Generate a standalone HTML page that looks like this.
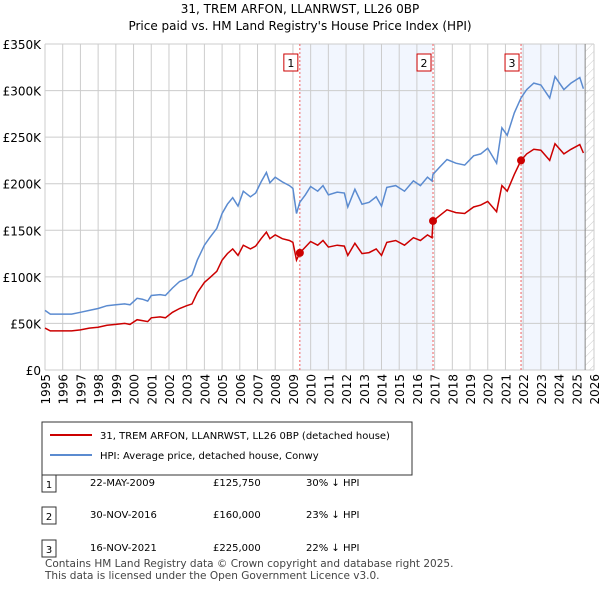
<!DOCTYPE html>
<html><head><meta charset="utf-8"><style>
body{margin:0;background:#fff;font-family:"Liberation Sans",sans-serif;color:#222}
svg text{font-family:"DejaVu Sans","Liberation Sans",sans-serif}
</style></head><body>
<svg width="600" height="590" viewBox="0 0 600 590" xmlns="http://www.w3.org/2000/svg">
<text x="300" y="13" text-anchor="middle" font-size="12">31, TREM ARFON, LLANRWST, LL26 0BP</text>
<text x="300" y="30" text-anchor="middle" font-size="12">Price paid vs. HM Land Registry's House Price Index (HPI)</text>
<defs><pattern id="hatch" width="6" height="6" patternUnits="userSpaceOnUse" patternTransform="rotate(45)"><line x1="0" y1="0" x2="0" y2="6" stroke="#ccc" stroke-width="1"/></pattern></defs>
<g id="plot"></g>
<g>
<rect x="42" y="422" width="370" height="53" fill="#fff" stroke="#333"/>
<line x1="50" y1="435" x2="92" y2="435" stroke="#cc0000" stroke-width="2"/>
<text x="100" y="439" font-size="10">31, TREM ARFON, LLANRWST, LL26 0BP (detached house)</text>
<line x1="50" y1="455" x2="92" y2="455" stroke="#5b8bd0" stroke-width="2"/>
<text x="100" y="459" font-size="10">HPI: Average price, detached house, Conwy</text>
</g>
<g font-size="10">
<rect x="42" y="475" width="14" height="17" fill="#fff" stroke="#333"/><text x="49" y="488" text-anchor="middle">1</text>
<text x="90" y="486">22-MAY-2009</text><text x="213" y="486">£125,750</text><text x="306" y="486">30% ↓ HPI</text>
<rect x="42" y="507" width="14" height="17" fill="#fff" stroke="#333"/><text x="49" y="520" text-anchor="middle">2</text>
<text x="90" y="518">30-NOV-2016</text><text x="213" y="518">£160,000</text><text x="306" y="518">23% ↓ HPI</text>
<rect x="42" y="540" width="14" height="17" fill="#fff" stroke="#333"/><text x="49" y="553" text-anchor="middle">3</text>
<text x="90" y="551">16-NOV-2021</text><text x="213" y="551">£225,000</text><text x="306" y="551">22% ↓ HPI</text>
</g>
<text x="45" y="567" font-size="10.5" fill="#444">Contains HM Land Registry data © Crown copyright and database right 2025.</text>
<text x="45" y="579" font-size="10.5" fill="#444">This data is licensed under the Open Government Licence v3.0.</text>
</svg>
<script>
const dates=[1995.0,1995.3,1996.0,1996.5,1997.0,1997.5,1998.0,1998.5,1999.0,1999.5,1999.8,2000.2,2000.5,2000.8,2001.0,2001.5,2001.8,2002.2,2002.6,2003.0,2003.3,2003.6,2004.0,2004.3,2004.7,2005.0,2005.3,2005.6,2005.9,2006.2,2006.6,2006.9,2007.2,2007.5,2007.7,2008.0,2008.4,2008.8,2009.0,2009.2,2009.39,2009.7,2010.0,2010.4,2010.7,2011.0,2011.5,2011.9,2012.1,2012.5,2012.9,2013.3,2013.7,2014.0,2014.3,2014.8,2015.3,2015.8,2016.2,2016.6,2016.85,2016.91,2017.3,2017.7,2018.2,2018.7,2019.2,2019.6,2020.0,2020.5,2020.8,2021.1,2021.5,2021.88,2022.2,2022.6,2023.0,2023.5,2023.8,2024.3,2024.7,2025.2,2025.4];
const hpiValues=[64,60,60,60,62,64,66,69,70,71,70,77,76,74,80,81,80,88,95,98,102,118,134,142,152,168,178,185,176,192,186,190,202,212,201,207,202,198,195,168,180,188,197,192,198,188,191,190,175,194,178,180,186,176,196,198,192,203,198,207,203,210,218,226,222,220,230,232,238,222,260,252,276,292,301,308,306,292,315,301,308,314,302];
const priceValues=[45,42,42,42,43,45,46,48,49,50,49,54,53,52,56,57,56,62,66,69,71,83,94,99,106,118,125,130,123,134,130,133,141,148,141,145,141,139,137,118,125.75,132,138,134,139,132,134,133,123,136,125,126,130,123,137,139,134,142,139,145,142,160,166,172,169,168,175,177,181,170,198,192,210,225,232,237,236,225,243,232,237,242,233];
const saleDates=[2009.39,2016.91,2021.88];
const salePrices=[125.75,160,225];
const saleLabels=["1","2","3"];
const yTicks=[0,50,100,150,200,250,300,350];
const yTickLabels=["£0","£50K","£100K","£150K","£200K","£250K","£300K","£350K"];
const xYears=[1995,1996,1997,1998,1999,2000,2001,2002,2003,2004,2005,2006,2007,2008,2009,2010,2011,2012,2013,2014,2015,2016,2017,2018,2019,2020,2021,2022,2023,2024,2025,2026];

const L=45,R=594,T=44,B=370;
const xs=d=>L+(d-1995)/(2026-1995)*(R-L);
const ys=v=>B-v/350*(B-T);
const g=document.getElementById('plot');
const NS="http://www.w3.org/2000/svg";
function mk(tag,attrs){const e=document.createElementNS(NS,tag);for(const k in attrs)e.setAttribute(k,attrs[k]);g.appendChild(e);return e;}
let e;
e=mk('rect',{x:xs(saleDates[0]),y:T,width:xs(saleDates[1])-xs(saleDates[0]),height:B-T,fill:'#eef3fd',opacity:0.75});


e=mk('rect',{x:xs(saleDates[2]),y:T,width:xs(2025.5)-xs(saleDates[2]),height:B-T,fill:'#eef3fd',opacity:0.75});


e=mk('rect',{x:xs(2025.5),y:T,width:R-xs(2025.5),height:B-T,fill:'url(#hatch)'});


yTicks.forEach((v,i)=>{
 e=mk('line',{x1:L,x2:R,y1:ys(v),y2:ys(v),stroke:'#ccc','stroke-width':1});
 
 
 e=mk('text',{x:L-4,y:ys(v)+5,'text-anchor':'end','font-size':12});
 e.textContent=yTickLabels[i];
 
 
});
xYears.forEach(yr=>{
 e=mk('line',{x1:xs(yr),x2:xs(yr),y1:T,y2:B,stroke:'#ccc','stroke-width':1});
 
 
 e=mk('text',{x:0,y:0,'text-anchor':'end','font-size':12,transform:`translate(${xs(yr)+5},${B+4}) rotate(-90)`});
 e.textContent=yr;
 
 
});
e=mk('line',{x1:xs(2025.5),x2:xs(2025.5),y1:T,y2:B,stroke:'#888','stroke-width':1});


saleDates.forEach((d,i)=>{
 e=mk('line',{x1:xs(d),x2:xs(d),y1:T,y2:B,stroke:'#f06060','stroke-width':1,'stroke-dasharray':'2,2'});
 
 
 e=mk('rect',{x:xs(d)-16,y:54,width:14,height:17,fill:'#fff',stroke:'#cc0000'});
 
 
 e=mk('text',{x:xs(d)-9,y:67,'text-anchor':'middle','font-size':11});
 e.textContent=saleLabels[i];
 
 
});
const pts=a=>a.map((v,i)=>xs(dates[i]).toFixed(1)+','+ys(v).toFixed(1)).join(' ');
e=mk('polyline',{points:pts(hpiValues),fill:'none',stroke:'#5b8bd0','stroke-width':1.5});


e=mk('polyline',{points:pts(priceValues),fill:'none',stroke:'#cc0000','stroke-width':1.5});


saleDates.forEach((d,i)=>{
 e=mk('circle',{cx:xs(d),cy:ys(salePrices[i]),r:4,fill:'#cc0000'});
 
 
});
</script>
</body></html>
